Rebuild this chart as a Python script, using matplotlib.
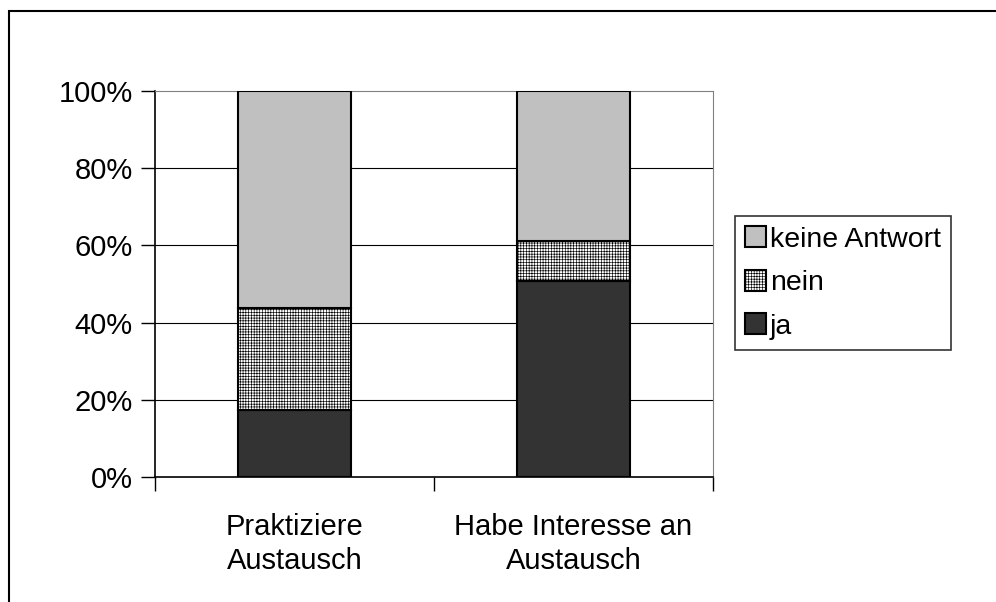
import matplotlib.pyplot as plt
import matplotlib.patches as mpatches
from matplotlib.ticker import FixedLocator

plt.rcParams['font.family'] = ['Liberation Sans', 'DejaVu Sans']
plt.rcParams['hatch.color'] = '#8c8c8c'
plt.rcParams['hatch.linewidth'] = 0.45

# Data
categories = ["Praktiziere\nAustausch", "Habe Interesse an\nAustausch"]
ja = [17.4, 50.8]
nein = [26.4, 10.3]
keine_antwort = [56.2, 38.9]

fig = plt.figure(figsize=(9.96, 6.02), dpi=100)
fig.patches.append(mpatches.Rectangle((9 / 996, -0.1), 1.2, 1 + 0.1 - 11 / 602,
                                      transform=fig.transFigure, fill=False,
                                      edgecolor='black', linewidth=1.5))
ax = fig.add_axes([155 / 996, 125 / 602, 558 / 996, 386 / 602])

x = [0, 1]
w = 0.405
ax.bar(x, ja, w, color='#333333', edgecolor='black', linewidth=1.5, label='ja', zorder=3)
ax.bar(x, nein, w, bottom=ja, color='white', edgecolor='black', linewidth=1.5,
       hatch='++++++', label='nein', zorder=3)
bottom2 = [a + b for a, b in zip(ja, nein)]
ax.bar(x, keine_antwort, w, bottom=bottom2, color='#c0c0c0', edgecolor='black',
       linewidth=1.5, label='keine Antwort', zorder=3)

ax.set_xlim(-0.5, 1.5)
ax.set_ylim(0, 100)
ax.set_yticks([0, 20, 40, 60, 80, 100])
ax.set_yticklabels(['0%', '20%', '40%', '60%', '80%', '100%'], fontsize=21)
for y in [20, 40, 60, 80]:
    ax.axhline(y, color='black', linewidth=0.8, zorder=1)

ax.set_xticks(x)
ax.set_xticklabels(categories, fontsize=21, linespacing=1.25)
ax.tick_params(axis='x', which='major', length=0, pad=26)
ax.xaxis.set_minor_locator(FixedLocator([-0.5, 0.5, 1.5]))
ax.tick_params(axis='x', which='minor', length=10, width=1, direction='out')
ax.tick_params(axis='y', length=10, width=1, direction='out', pad=6)

ax.spines['left'].set_linewidth(1.2)
ax.spines['bottom'].set_linewidth(1.2)
ax.spines['top'].set_color('#808080')
ax.spines['right'].set_color('#808080')

handles, labels = ax.get_legend_handles_labels()
leg = fig.legend(handles[::-1], labels[::-1], loc='center left',
                 bbox_to_anchor=(735 / 996, 1 - 283 / 602), fontsize=20.5,
                 frameon=True, fancybox=False, edgecolor='black',
                 handlelength=0.75, handleheight=0.75, handletextpad=0.12,
                 labelspacing=0.6, borderpad=0.35, borderaxespad=0)
leg.get_frame().set_linewidth(1.2)

fig.savefig('out.png', dpi=100)
